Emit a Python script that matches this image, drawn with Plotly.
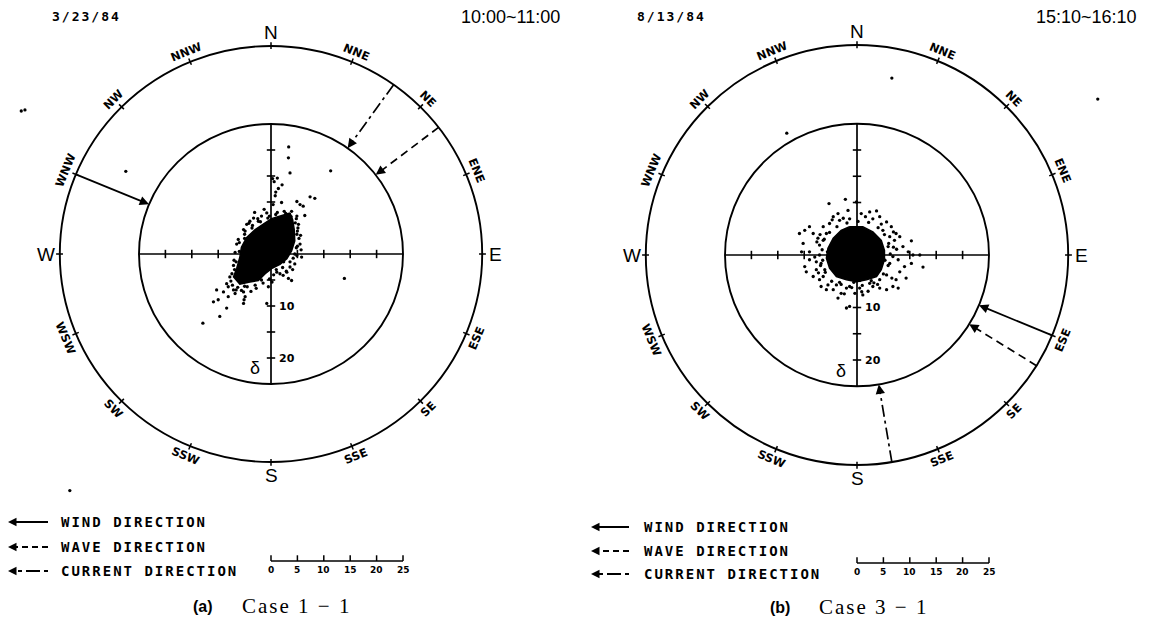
import math
import plotly.graph_objects as go

FIG_W, FIG_H = 1153, 622

# ---------------- data ----------------
DIRECTIONS = ["N", "NNE", "NE", "ENE", "E", "ESE", "SE", "SSE",
              "S", "SSW", "SW", "WSW", "W", "WNW", "NW", "NNW"]
DATES = ["3/23/84", "8/13/84"]
TIMES = ["10:00~11:00", "15:10~16:10"]
CAPTION_TAGS = ["(a)", "(b)"]
CAPTION_CASES = ["Case 1 − 1", "Case 3 − 1"]

WIND_DIR = [292.5, 112.5]      # degrees from north, clockwise
WAVE_DIR = [52.5, 121.8]
CURRENT_DIR = [35.5, 170.5]

SCALE_TICKS = [0, 5, 10, 15, 20, 25]
AXIS_TICKS = [-20, -15, -10, -5, 5, 10, 15, 20]
AXIS_LABELS = [10, 20]
INNER_R = 25
OUTER_R = 40

LEGEND_LABELS = ["WIND DIRECTION", "WAVE DIRECTION", "CURRENT DIRECTION"]

# case 1-1 : dense core outline and scattered points (delta units)
CORE_A_X = [3.6, 1.7, 0.1, -1.1, -3.0, -4.6, -5.6, -5.9, -6.5, -7.1, -5.9, -4.0,
            -2.4, -1.1, 0.1, 1.7, 3.0, 3.9, 4.5, 4.4, 4.1]
CORE_A_Y = [7.9, 7.3, 6.8, 6.0, 4.7, 3.2, 1.3, -0.6, -2.8, -4.4, -5.8, -5.4,
            -5.1, -3.8, -2.8, -2.0, -0.9, 0.6, 2.5, 4.7, 6.6]
DOTS_A_X = [3.35, 3.3, 3.6, 11.3, 1.2, 2.1, 1.4, 0.9, 0.8, 7.4, 8.3, 4.9, 5.5, 2.0,
            6.1, 6.4, 3.9, 4.9, -4.0, -4.6, -5.2, -1.8, -0.8, 5.2, 4.9, 5.5, 5.8,
            4.9, 4.5, 3.6, 3.0, 2.3, 3.3, 3.9, 1.7, 1.1, 13.9, -7.1, -7.4, -7.8,
            -8.4, -8.1, -7.1, -6.8, -8.1, -9.0, -10.3, -10.0, -10.9, -8.4, -9.7,
            -12.9, -5.2, -4.9, -5.2, -0.8, -0.5, -6.5, -6.2, -4.9, -2.4, 0.4, 0.6,
            0.3, -5.1, -6.6, -3.5, -2.5, -5.0, -6.0, -6.6, -6.2, -5.0, -3.0, -1.8,
            0.5, 2.4, 4.2, 4.8, 5.0, 4.6, 2.8, 0.9, -0.3, -27.5, -47.3, -46.6, -38.1,
            -6.8, -7.0, -6.9, -7.6, -6.3, -4.5, -2.8, -1.5, -0.3, 1.0, 2.2, 3.6, 4.5,
            5.0, 5.3, 5.1, 4.8, 3.8, 2.5, 1.2, -0.6, -2.0, -3.6, -5.0, -6.0, -4.2,
            -3.3, -6.0, -7.3, -5.6, -3.8, 0.2, 2.9, 4.1, 5.7, 5.6, -1.3, -3.1]
DOTS_A_Y = [20.6, 18.5, 15.6, 16.0, 14.6, 13.3, 12.6, 11.9, 11.2, 11.0, 10.7, 10.1,
            9.5, 9.9, 9.2, 7.4, 8.2, 7.3, 6.3, 5.7, 4.7, 7.3, 7.9, 5.7, 3.8, 1.9,
            -0.6, -0.3, -1.9, -2.5, -3.5, -4.1, -4.7, -5.1, -3.8, -3.5, -4.7, -2.2,
            -3.8, -4.4, -5.7, -6.3, -6.9, -7.6, -8.2, -7.3, -6.9, -8.8, -9.2, -10.4,
            -12.0, -13.3, -7.3, -8.2, -9.5, -9.5, -6.3, 1.9, 2.8, 4.4, 6.3, 9.5,
            13.9, 14.5, -8.8, -6.9, 5.5, 6.8, 3.8, 0.5, -1.5, -3.5, -6.2, -6.0,
            -5.0, -4.0, -1.5, -0.8, 1.2, 4.4, 6.0, 7.8, 7.6, 7.3, 15.9, 27.5, 27.7,
            -45.5,
            0.3, -1.2, -3.0, -5.2, -6.4, -6.3, -6.6, -5.6, -4.8, -3.0, -2.6, -1.5, 0.0,
            1.5, 3.0, 5.0, 6.8, 7.2, 8.2, 8.0, 6.9, 6.2, 5.0, 3.0, 2.2, 5.9,
            6.9, -5.0, -6.0, -7.0, -7.2, -5.4, -3.3, -3.0, 0.8, 3.6, 8.6, 8.0]

# case 3-1
CORE_B_X = [-1.4, 1.1, 3.0, 4.6, 5.2, 5.2, 4.6, 3.7, 1.8, -0.1, -2.0, -3.9, -5.2,
            -5.8, -5.5, -4.5, -3.0]
CORE_B_Y = [5.4, 5.4, 4.4, 2.8, 0.9, -0.9, -2.8, -4.1, -4.7, -5.1, -4.7, -4.1, -2.5,
            -0.6, 1.3, 3.2, 4.7]
DOTS_B_X = [-5.3, -2.2, -0.1, -1.7, -3.6, -4.5, 0.8, 2.4, 3.7, 4.3, 3.0, 5.6, 6.5,
            7.4, 8.1, 7.1, 8.7, 10.3, 9.7, 10.6, 11.9, 12.5, 10.3, 9.0, 8.1, 9.3,
            7.4, 6.8, 7.8, 5.6, 4.3, 3.0, 2.1, 1.1, -0.4, -2.0, -3.0, -3.6, -4.5,
            -5.5, -6.8, -7.1, -8.3, -9.6, -9.9, -9.0, -7.7, -7.1, -9.0, -10.5,
            -10.2, -10.9, -9.9, -9.0, -8.3, -7.4, -7.1, -6.4, -5.2, -3.3, -1.4,
            -2.0, -1.4, -6.8, -6.1, 6.8, 6.2, 5.6, 5.9, 6.2, 4.9, -5.8, -6.4, -3.9,
            -1.4, 0.5, 2.4, 4.3, -6.4, -7.7, -13.3, 6.6, 45.6,
            -6.2, -6.6, -6.5, -6.0, -4.8, -3.0, -1.0, 1.0, 3.2, 5.0, 5.9, 6.3, 6.0,
            5.2, 4.0, 2.2, 0.2, -1.9, -3.8, -5.2, -7.6, -8.0, -7.3, -5.8, -2.4, 0.9,
            3.9, 6.6, 7.8, 7.5, 6.9, 4.6, 1.6, -2.6, -4.7, -7.0, -6.9, -5.6, -3.3,
            -0.6, 2.7, 5.3, 6.9, 4.2]
DOTS_B_Y = [9.8, 10.6, 10.1, 8.5, 7.9, 7.3, 7.9, 8.2, 8.4, 7.3, 6.9, 6.3, 5.4, 4.1,
            3.5, 2.8, 1.6, 2.7, 0.6, 0.0, 0.0, -2.3, -1.6, -2.2, -3.2, -4.4, -4.7,
            -6.0, -6.3, -6.6, -6.3, -6.0, -6.9, -7.6, -7.3, -6.3, -7.3, -8.2, -6.6,
            -5.7, -6.0, -4.7, -4.1, -3.2, -2.2, -0.9, -1.3, 0.0, 0.6, 0.6, 2.2,
            4.1, 4.7, 5.4, 4.1, 3.2, 1.9, 5.4, 6.0, 6.6, 6.9, -10.1, -9.8, -1.6,
            -2.8, -0.3, -1.6, -3.8, 1.6, 3.5, 4.7, 4.1, 2.8, -5.7, -6.0, -6.3,
            -5.4, -4.7, -4.1, -2.8, 23.2, 33.7, 29.7,
            3.0, 1.0, -1.0, -3.3, -5.0, -5.6, -6.2, -5.8, -5.3, -3.6, -2.0, 0.2, 2.2,
            3.9, 5.2, 6.2, 6.4, 6.1, 5.4, 4.3, 2.5, -0.4, -3.4, -6.6, -7.4, -7.0,
            -5.6, -4.4, -0.9, 1.1, 4.4, 5.9, 7.3, 7.0, 6.7, 3.9, -2.0, 0.6, -5.2,
            -5.2, -4.9, -1.0, 1.5, -3.0]

CORES = [(CORE_A_X, CORE_A_Y), (CORE_B_X, CORE_B_Y)]
DOTS = [(DOTS_A_X, DOTS_A_Y), (DOTS_B_X, DOTS_B_Y)]

# ---------------- layout geometry (pixels) ----------------
PANELS = [
    dict(cx=271, cy=254, sx=5.28, sy=5.20, x0=0, x1=576, xa="x", ya="y",
         leg_line=(48, 8), leg_text=59, leg_rows=(522, 547, 571),
         bar_y=561, bar_lab=570, tag_x=203, case_x=296, cap_y=606,
         date_x=86, time_x=510),
    dict(cx=857, cy=255, sx=5.28, sy=5.25, x0=576, x1=1153, xa="x2", ya="y2",
         leg_line=(629, 591), leg_text=642, leg_rows=(527, 551, 574),
         bar_y=563, bar_lab=572, tag_x=780, case_x=873, cap_y=607,
         date_x=671, time_x=1086),
]

MONO = "DejaVu Sans Mono"
SANS = "Liberation Sans, Arial, sans-serif"
SERIF = "Liberation Serif, Times New Roman, serif"


def paper(px, py):
    return px / FIG_W, 1 - py / FIG_H


def spaced(text, ls):
    return f'<span style="letter-spacing:{ls}px">{text}</span>'


def polar(r, deg):
    a = math.radians(deg)
    return r * math.sin(a), r * math.cos(a)


def arrow_head(xref, yref, x_tip, y_tip, x_tail, y_tail, size=1.1):
    return dict(xref=xref, yref=yref, axref=xref, ayref=yref, x=x_tip, y=y_tip,
                ax=x_tail, ay=y_tail, text="", showarrow=True, arrowhead=2,
                arrowsize=size, arrowwidth=1.7, arrowcolor="black", standoff=0,
                startstandoff=0)


fig = go.Figure()
annotations = []
shapes = []

DASHES = {"wind": "solid", "wave": "8px,5px", "current": "12px,4px,3px,4px"}
LEG_DASHES = {"wind": "solid", "wave": "6px,4px", "current": "4px,4px,14px,4px"}

for i, p in enumerate(PANELS):
    xa, ya = p["xa"], p["ya"]
    xref = xa
    yref = ya

    # circles
    for R in (INNER_R, OUTER_R):
        shapes.append(dict(type="circle", xref=xref, yref=yref, x0=-R, x1=R, y0=-R, y1=R,
                           line=dict(color="black", width=1.9), layer="below"))

    # cross axes
    fig.add_trace(go.Scatter(x=[-INNER_R, INNER_R, None, 0, 0],
                             y=[0, 0, None, -INNER_R, INNER_R],
                             mode="lines", line=dict(color="black", width=1.7),
                             xaxis=xa, yaxis=ya, hoverinfo="skip"))
    fig.add_trace(go.Scatter(x=AXIS_TICKS, y=[0] * len(AXIS_TICKS), mode="markers",
                             marker=dict(symbol="line-ns", size=6,
                                         line=dict(color="black", width=1.6)),
                             xaxis=xa, yaxis=ya, hoverinfo="skip"))
    fig.add_trace(go.Scatter(x=[0] * len(AXIS_TICKS), y=AXIS_TICKS, mode="markers",
                             marker=dict(symbol="line-ew", size=6,
                                         line=dict(color="black", width=1.6)),
                             xaxis=xa, yaxis=ya, hoverinfo="skip"))
    for v in AXIS_LABELS:
        annotations.append(dict(xref=xref, yref=yref, x=1.1, y=-v, text=f"<b>{v}</b>",
                                showarrow=False, xanchor="left", yanchor="middle",
                                font=dict(family="DejaVu Sans", size=11, color="black")))
    annotations.append(dict(xref=xref, yref=yref, x=-3.0, y=-22.0, text="δ",
                            showarrow=False, xanchor="center", yanchor="middle",
                            font=dict(family=SANS, size=18, color="black")))

    # compass ticks and labels
    tx, ty = [], []
    for k, name in enumerate(DIRECTIONS):
        deg = k * 22.5
        x0, y0 = polar(OUTER_R - 0.6, deg)
        x1, y1 = polar(OUTER_R + 0.7, deg)
        tx += [x0, x1, None]
        ty += [y0, y1, None]
        cardinal = len(name) == 1
        lx, ly = polar(42.6 if cardinal else 42.1, deg)
        if cardinal:
            ang = 0
        elif deg < 90:
            ang = deg
        elif deg > 270:
            ang = deg - 360
        else:
            ang = deg - 180
        if cardinal:
            font = dict(family=SANS, size=19, color="black")
            txt = name
        else:
            font = dict(family="DejaVu Sans", size=11.5, color="black")
            txt = f"<b>{name}</b>"
        annotations.append(dict(xref=xref, yref=yref, x=lx, y=ly, text=txt,
                                textangle=ang, showarrow=False,
                                xanchor="center", yanchor="middle", font=font))
    fig.add_trace(go.Scatter(x=tx, y=ty, mode="lines",
                             line=dict(color="black", width=1.5),
                             xaxis=xa, yaxis=ya, hoverinfo="skip"))

    # cloud of points
    cx_, cy_ = CORES[i]
    fig.add_trace(go.Scatter(x=cx_ + [cx_[0]], y=cy_ + [cy_[0]], mode="lines",
                             fill="toself", fillcolor="black",
                             line=dict(color="black", width=1.5),
                             xaxis=xa, yaxis=ya, hoverinfo="skip"))
    dx_, dy_ = DOTS[i]
    fig.add_trace(go.Scatter(x=dx_, y=dy_, mode="markers",
                             marker=dict(size=3.3, color="black"),
                             xaxis=xa, yaxis=ya, hoverinfo="skip"))

    # direction arrows
    for key, dirs in (("wind", WIND_DIR), ("wave", WAVE_DIR), ("current", CURRENT_DIR)):
        xs, ys = polar(OUTER_R, dirs[i])
        xe, ye = polar(INNER_R, dirs[i])
        xb, yb = polar(INNER_R + 1.2, dirs[i])
        fig.add_trace(go.Scatter(x=[xs, xb], y=[ys, yb], mode="lines",
                                 line=dict(color="black", width=1.7, dash=DASHES[key]),
                                 xaxis=xa, yaxis=ya, hoverinfo="skip"))
        annotations.append(arrow_head(xref, yref, xe, ye, xb, yb))

    # scale bar (in delta units, same scale as the plot)
    bar_y = -(p["bar_y"] - p["cy"]) / p["sy"]
    lab_y = -(p["bar_lab"] - p["cy"]) / p["sy"]
    bx = [SCALE_TICKS[0], SCALE_TICKS[-1], None]
    by = [bar_y, bar_y, None]
    for t in SCALE_TICKS:
        bx += [t, t, None]
        by += [bar_y, bar_y + 1.1, None]
    fig.add_trace(go.Scatter(x=bx, y=by, mode="lines", line=dict(color="black", width=1.5),
                             xaxis=xa, yaxis=ya, hoverinfo="skip"))
    for t in SCALE_TICKS:
        annotations.append(dict(xref=xref, yref=yref, x=t, y=lab_y, text=f"<b>{t}</b>",
                                showarrow=False, xanchor="center", yanchor="middle",
                                font=dict(family="DejaVu Sans", size=9, color="black")))

    # legend (drawn in the pixel overlay axes)
    for key, row, label in zip(("wind", "wave", "current"), p["leg_rows"], LEGEND_LABELS):
        xr0, xl0 = p["leg_line"]
        xl_b = xl0 + 5 if xr0 > xl0 else xl0 - 5
        fig.add_trace(go.Scatter(x=[xr0, xl_b], y=[row, row], mode="lines",
                                 line=dict(color="black", width=1.8, dash=LEG_DASHES[key]),
                                 xaxis="x3", yaxis="y3", hoverinfo="skip"))
        annotations.append(arrow_head("x3", "y3", xl0, row, xl_b, row, size=1.0))
        px_, py_ = paper(p["leg_text"], row)
        annotations.append(dict(xref="paper", yref="paper", x=px_, y=py_,
                                text=spaced(f"<b>{label}</b>", 2.0), showarrow=False,
                                xanchor="left", yanchor="middle",
                                font=dict(family=MONO, size=14, color="black")))

    # header texts
    px_, py_ = paper(p["date_x"], 16.5)
    annotations.append(dict(xref="paper", yref="paper", x=px_, y=py_,
                            text=spaced(f"<b>{DATES[i]}</b>", 2.0), showarrow=False,
                            xanchor="center", yanchor="middle",
                            font=dict(family=MONO, size=13, color="black")))
    px_, py_ = paper(p["time_x"], 16.5)
    annotations.append(dict(xref="paper", yref="paper", x=px_, y=py_, text=TIMES[i],
                            showarrow=False, xanchor="center", yanchor="middle",
                            font=dict(family=SANS, size=18, color="black")))

    # caption
    px_, py_ = paper(p["tag_x"], p["cap_y"])
    annotations.append(dict(xref="paper", yref="paper", x=px_, y=py_,
                            text=f"<b>{CAPTION_TAGS[i]}</b>", showarrow=False,
                            xanchor="center", yanchor="middle",
                            font=dict(family=SANS, size=16, color="black")))
    px_, py_ = paper(p["case_x"], p["cap_y"])
    annotations.append(dict(xref="paper", yref="paper", x=px_, y=py_,
                            text=spaced(CAPTION_CASES[i], 2), showarrow=False,
                            xanchor="center", yanchor="middle",
                            font=dict(family=SERIF, size=21, color="black")))

lay = dict(width=FIG_W, height=FIG_H, margin=dict(l=0, r=0, t=0, b=0),
           paper_bgcolor="white", plot_bgcolor="rgba(0,0,0,0)", showlegend=False,
           annotations=annotations, shapes=shapes)
for i, p in enumerate(PANELS):
    sfx = "" if i == 0 else "2"
    xr = [(p["x0"] - p["cx"]) / p["sx"], (p["x1"] - p["cx"]) / p["sx"]]
    yr = [-(FIG_H - p["cy"]) / p["sy"], p["cy"] / p["sy"]]
    lay["xaxis" + sfx] = dict(domain=[p["x0"] / FIG_W, p["x1"] / FIG_W], range=xr,
                              visible=False, anchor="y" + sfx, fixedrange=True)
    lay["yaxis" + sfx] = dict(domain=[0, 1], range=yr, visible=False,
                              anchor="x" + sfx, fixedrange=True)
lay["xaxis3"] = dict(domain=[0, 1], range=[0, FIG_W], visible=False, anchor="y3",
                     fixedrange=True)
lay["yaxis3"] = dict(domain=[0, 1], range=[FIG_H, 0], visible=False, anchor="x3",
                     fixedrange=True)
fig.update_layout(**lay)

fig.write_html("out.html")
